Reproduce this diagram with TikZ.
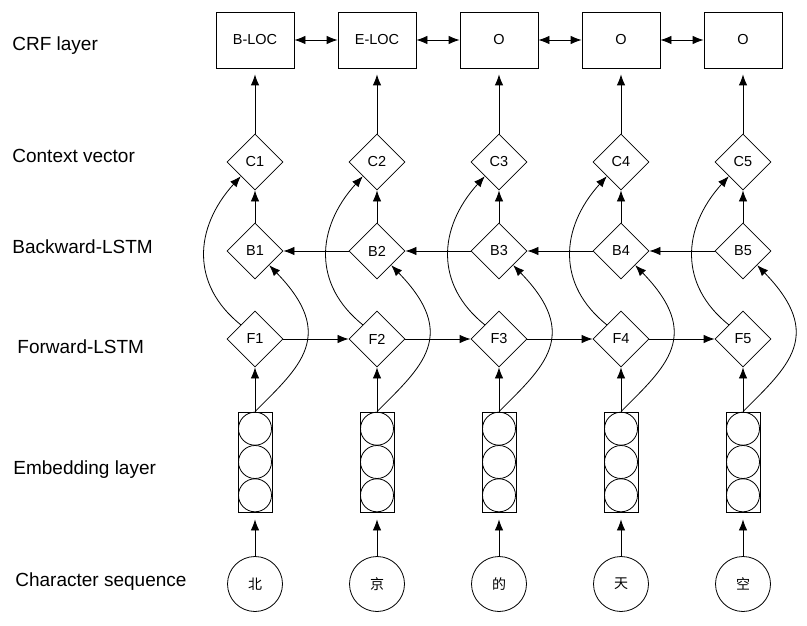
\documentclass[tikz,border=0pt]{standalone}
\usepackage{fontspec}
\setmainfont{Liberation Sans}
\newfontfamily\cjk{Noto Sans CJK SC}
\usetikzlibrary{shapes.geometric,arrows.meta}

\begin{document}
\begin{tikzpicture}
    [x=1pt,y=-1pt,line width=0.8pt,>={Latex[length=11pt,width=8.5pt]},
     tagbox/.style={draw,rectangle,minimum width=78pt,minimum height=56pt,
       font=\fontsize{14.5}{16}\selectfont},
     cell/.style={draw,diamond,minimum width=56pt,minimum height=56pt,
       inner sep=0pt,font=\fontsize{14.5}{16}\selectfont},
     embbox/.style={draw,rectangle,minimum width=34pt,minimum height=100pt,inner sep=0pt},
     unit/.style={draw,circle,minimum size=33pt,inner sep=0pt},
     charnode/.style={draw,circle,minimum size=55pt,inner sep=0pt,
       font=\cjk\fontsize{14}{16}\selectfont},
     layer/.style={anchor=base west,inner sep=0pt,font=\fontsize{19}{22}\selectfont}]
    \useasboundingbox (0,0) rectangle (807,626);

    % layer names on the left
    \node[layer] (lcrf) at (12,51) {CRF layer};
    \node[layer] (lctx) at (12,163) {Context vector};
    \node[layer] (lbwd) at (12,253) {Backward-LSTM};
    \node[layer] (lfwd) at (17,353) {Forward-LSTM};
    \node[layer] (lemb) at (13,474) {Embedding layer};
    \node[layer] (lchr) at (15,586) {Character sequence};

    % one column per character
    \foreach \i/\tag/\ch in {1/B-LOC/北,2/E-LOC/京,3/O/的,4/O/天,5/O/空}
    {
      \pgfmathsetmacro\x{133+122*\i}
      \node[tagbox] (crf\i) at (\x,40) {\tag};
      \node[cell] (c\i) at (\x,162) {C\i};
      \node[cell] (b\i) at (\x,251) {B\i};
      \node[cell] (f\i) at (\x,339) {F\i};
      \node[embbox] (emb\i) at (\x,462) {};
      \foreach \k in {1,2,3}
        \node[unit] (u\i\k) at (\x,{462+33.3*(\k-2)}) {};
      \node[charnode] (ch\i) at (\x,584) {\ch};

      \draw[->,shorten >=7pt] (ch\i) -- (emb\i);
      \draw[->] (emb\i) -- (f\i);
      \draw[->] (b\i) -- (c\i);
      \draw[->,shorten >=6pt] (c\i) -- (crf\i);
      \draw[->] (f\i.north west) .. controls +(-50,-40) and +(-47,52) .. (c\i.south west);
      \draw[->] (emb\i.north) .. controls +(45,-45) and +(68,70) .. (b\i.south east);
    }

    % links between neighbours
    \foreach \i/\j in {1/2,2/3,3/4,4/5}
    {
      \draw[<->] (crf\i) -- (crf\j);
      \draw[->] (f\i) -- (f\j);
      \draw[->] (b\j) -- (b\i);
    }
  \end{tikzpicture}
\end{document}
